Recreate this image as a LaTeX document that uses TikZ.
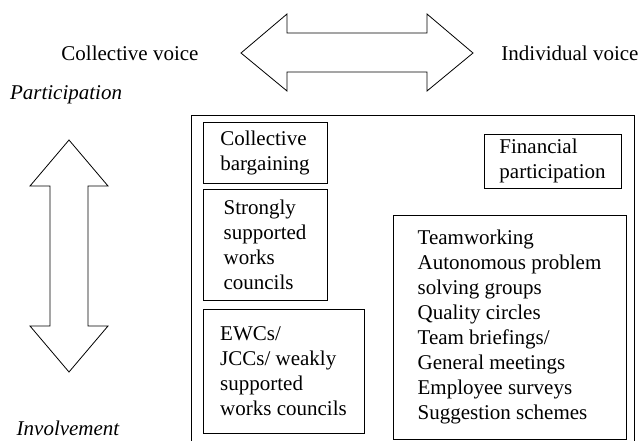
\documentclass[tikz,border=0pt]{standalone}
\usepackage{fontspec}
\setmainfont{Liberation Serif}
\usepackage{tikz}
\usetikzlibrary{positioning}

\begin{document}
\begin{tikzpicture}[x=1pt, y=-1pt,
  scheme/.style={draw, line width=0.8pt, align=left, inner sep=0pt, font=\fontsize{21}{25}\selectfont},
  axislabel/.style={inner sep=0pt, font=\fontsize{21}{25}\selectfont}
]
  \useasboundingbox (0,0) rectangle (640,441);

  %% Voice axis (horizontal)
  \node[axislabel] (coll) at (130,53) {Collective voice};
  \node[axislabel] (indiv) at (570,53) {Individual voice};
  \draw[line width=0.8pt, line join=miter]
    (241,53) -- (287,14) -- (287,33) -- (427,33) -- (427,14) -- (473,53)
    -- (427,91) -- (427,72) -- (287,72) -- (287,91) -- cycle;

  %% Participation / involvement axis (vertical)
  \node[axislabel, font=\fontsize{21}{25}\selectfont\itshape] (part) at (66,95) {Participation};
  \node[axislabel, font=\fontsize{21}{25}\selectfont\itshape] (invol) at (68,428) {Involvement};
  \draw[line width=0.8pt, line join=miter]
    (69,140) -- (108,186) -- (88,186) -- (88,326) -- (108,326) -- (69,372)
    -- (30,326) -- (50,326) -- (50,186) -- (30,186) -- cycle;

  %% Frame round the practices
  \draw[line width=0.8pt] (191,445) -- (191,115) -- (634,115) -- (634,445);

  %% Collective practices (left column)
  \node[scheme, minimum width=124, minimum height=61] (bargain) at (265,152.5)
    {Collective\\bargaining};
  \node[scheme, minimum width=124, minimum height=111] (strong) at (265,244.5)
    {Strongly\\supported\\works\\councils};
  \node[scheme, minimum width=161, minimum height=124] (ewc) at (283.5,371)
    {EWCs/\\JCCs/ weakly\\supported\\works councils};

  %% Individual practices (right column)
  \node[scheme, minimum width=137, minimum height=54] (finance) at (552.5,161)
    {Financial\\participation};
  \node[scheme, minimum width=233, minimum height=224] (team) at (509.5,327)
    {Teamworking\\Autonomous problem\\solving groups\\Quality circles\\Team briefings/\\General meetings\\Employee surveys\\Suggestion schemes};
\end{tikzpicture}
\end{document}
